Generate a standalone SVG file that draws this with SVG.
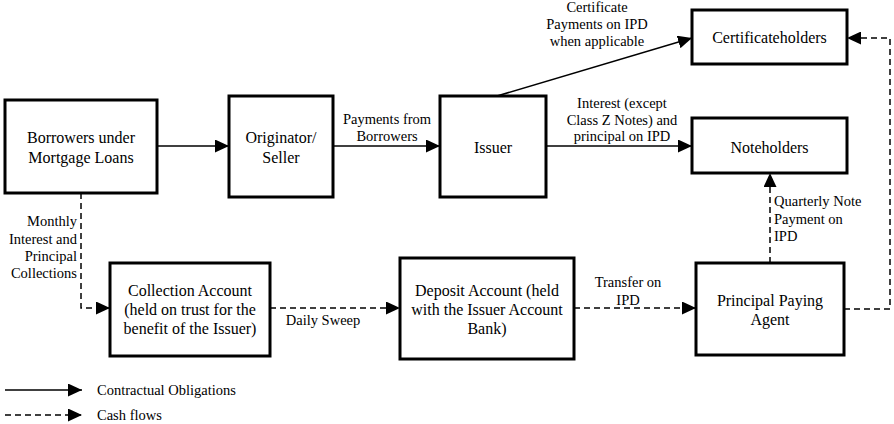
<svg xmlns="http://www.w3.org/2000/svg" width="894" height="424" viewBox="0 0 894 424" font-family="Liberation Serif, DejaVu Serif, serif">
<style>
.box{fill:#fff;stroke:#000;stroke-width:3}
.nt{font-size:16px;text-anchor:middle}
.lb{font-size:14.5px}
.c{text-anchor:middle}
.r{text-anchor:end}
.s{fill:none;stroke:#000;stroke-width:1.5}
.d{fill:none;stroke:#000;stroke-width:1.5;stroke-dasharray:6 4}
</style>
<defs>
<marker id="ah" markerUnits="userSpaceOnUse" markerWidth="14" markerHeight="13" refX="14" refY="6.5" orient="auto">
<path d="M0,0 L14,6.5 L0,13 z" fill="#000"/>
</marker>
</defs>
<rect width="894" height="424" fill="#fff"/>
<g id="connectors" font-family="Liberation Serif, serif">
<line class="s" x1="157" y1="146" x2="229" y2="146" marker-end="url(#ah)"/>
<line class="s" x1="333" y1="146" x2="440" y2="146" marker-end="url(#ah)"/>
<line class="s" x1="497" y1="96" x2="692" y2="38" marker-end="url(#ah)"/>
<line class="s" x1="546" y1="146" x2="692" y2="146" marker-end="url(#ah)"/>
<polyline class="d" points="81,193 81,308 110,308" marker-end="url(#ah)"/>
<line class="d" x1="270" y1="308" x2="400" y2="308" marker-end="url(#ah)"/>
<line class="d" x1="574" y1="308" x2="696" y2="308" marker-end="url(#ah)"/>
<line class="d" x1="770" y1="263" x2="770" y2="173" marker-end="url(#ah)"/>
<polyline class="d" points="844,309 890,309 890,38 847,38" marker-end="url(#ah)"/>
<text class="lb c" x="597" y="12">Certificate</text>
<text class="lb c" x="597" y="29">Payments on IPD</text>
<text class="lb c" x="597" y="46">when applicable</text>
<text class="lb c" x="387" y="124">Payments from</text>
<text class="lb c" x="387" y="141">Borrowers</text>
<text class="lb c" x="622" y="108">Interest (except</text>
<text class="lb c" x="622" y="125">Class Z Notes) and</text>
<text class="lb c" x="622" y="141">principal on IPD</text>
<text class="lb" x="774" y="206">Quarterly Note</text>
<text class="lb" x="774" y="224">Payment on</text>
<text class="lb" x="774" y="241">IPD</text>
<text class="lb r" x="77" y="226">Monthly</text>
<text class="lb r" x="77" y="244">Interest and</text>
<text class="lb r" x="77" y="261">Principal</text>
<text class="lb r" x="77" y="278">Collections</text>
<text class="lb c" x="323" y="325">Daily Sweep</text>
<text class="lb c" x="628" y="287">Transfer on</text>
<text class="lb c" x="628" y="305">IPD</text>
</g>
<g id="borrowers"><rect class="box" x="5" y="100" width="152" height="93"/><text class="nt" x="81" y="143">Borrowers under</text><text class="nt" x="81" y="163">Mortgage Loans</text></g>
<g id="originator"><rect class="box" x="229" y="96" width="104" height="101"/><text class="nt" x="281" y="143">Originator/</text><text class="nt" x="281" y="163">Seller</text></g>
<g id="issuer"><rect class="box" x="440" y="96" width="106" height="101"/><text class="nt" x="493" y="153">Issuer</text></g>
<g id="certificateholders"><rect class="box" x="692" y="10" width="155" height="54"/><text class="nt" x="769.5" y="43">Certificateholders</text></g>
<g id="noteholders"><rect class="box" x="692" y="118" width="155" height="55"/><text class="nt" x="769.5" y="153">Noteholders</text></g>
<g id="collection"><rect class="box" x="110" y="263" width="160" height="93"/><text class="nt" x="190" y="296">Collection Account</text><text class="nt" x="190" y="315">(held on trust for the</text><text class="nt" x="190" y="334">benefit of the Issuer)</text></g>
<g id="deposit"><rect class="box" x="400" y="258" width="174" height="101"/><text class="nt" x="487" y="296">Deposit Account (held</text><text class="nt" x="487" y="315">with the Issuer Account</text><text class="nt" x="487" y="334">Bank)</text></g>
<g id="ppa"><rect class="box" x="696" y="263" width="148" height="92"/><text class="nt" x="770" y="306">Principal Paying</text><text class="nt" x="770" y="325">Agent</text></g>
<g id="legend">
<line class="s" x1="5" y1="390" x2="82" y2="390" marker-end="url(#ah)"/>
<text class="lb" x="97" y="395">Contractual Obligations</text>
<line class="d" x1="5" y1="415" x2="82" y2="415" marker-end="url(#ah)"/>
<text class="lb" x="97" y="420">Cash flows</text>
</g>
</svg>
